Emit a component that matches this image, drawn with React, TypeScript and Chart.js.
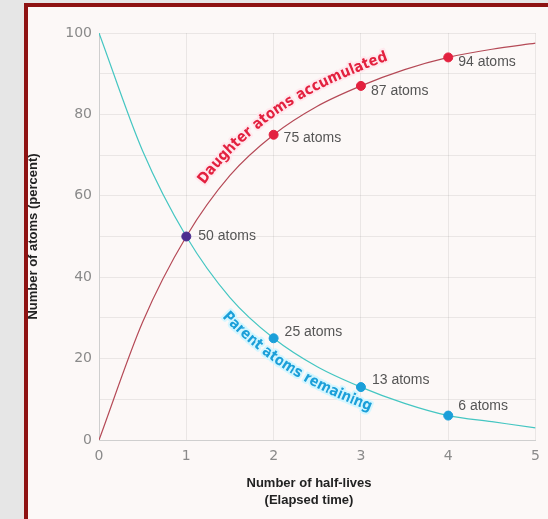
import React, { useEffect, useRef } from 'react';
import { Chart, registerables } from 'chart.js';

Chart.register(...registerables);

// ---- data ----
const curveX = [0, 0.5, 1, 1.5, 2, 2.5, 3, 3.5, 4, 4.5, 5];
const daughterCurve = [0, 29, 50, 65, 75, 82, 87, 91, 94, 96, 97.5];
const parentCurve = [100, 71, 50, 35, 25, 18, 13, 9, 6, 4.5, 3];

const markerX = [2, 3, 4];
const daughterMarkers = [75, 87, 94];
const parentMarkers = [25, 13, 6];
const crossX = [1];
const crossMarker = [50];

const daughterLabels = ['75 atoms', '87 atoms', '94 atoms'];
const parentLabels = ['25 atoms', '13 atoms', '6 atoms'];
const crossLabels = ['50 atoms'];

const xTickLabels = ['0', '1', '2', '3', '4', '5'];
const yTickLabels = ['0', '20', '40', '60', '80', '100'];

const daughterTitle = 'Daughter atoms accumulated';
const parentTitle = 'Parent atoms remaining';
const xAxisTitle = ['Number of half-lives', '(Elapsed time)'];
const yAxisTitle = 'Number of atoms (percent)';

// ---- styles ----
const RED = '#e3213f';
const BLUE = '#1b9fd9';
const PURPLE = '#4b2d8f';
const RED_LINE = '#b54a57';
const TEAL_LINE = '#45c6c2';
const LABEL_FONT = '14px "Liberation Sans", Arial, sans-serif';
const TITLE_FONT = 'bold 13px "Liberation Sans", Arial, sans-serif';
const CURVE_FONT = 'bold 15px "Liberation Sans Narrow", "DejaVu Sans Condensed", "Liberation Sans", sans-serif';

function sampleCurve(points: any[]) {
  const out: { x: number; y: number }[] = [];
  const N = 30;
  for (let i = 0; i < points.length - 1; i++) {
    const a = points[i];
    const b = points[i + 1];
    const c1x = a.cp2x ?? a.x, c1y = a.cp2y ?? a.y;
    const c2x = b.cp1x ?? b.x, c2y = b.cp1y ?? b.y;
    for (let k = 0; k < N; k++) {
      const t = k / N, m = 1 - t;
      out.push({
        x: m * m * m * a.x + 3 * m * m * t * c1x + 3 * m * t * t * c2x + t * t * t * b.x,
        y: m * m * m * a.y + 3 * m * m * t * c1y + 3 * m * t * t * c2y + t * t * t * b.y,
      });
    }
  }
  const last = points[points.length - 1];
  out.push({ x: last.x, y: last.y });
  return out;
}

function drawTextOnCurve(
  ctx: CanvasRenderingContext2D,
  points: any[],
  text: string,
  xStartPx: number,
  xEndPx: number,
  offset: number,
  color: string,
  halo: string
) {
  const pts = sampleCurve(points);
  const n = pts.length;
  const off = pts.map((p, i) => {
    const p0 = pts[Math.max(0, i - 1)];
    const p1 = pts[Math.min(n - 1, i + 1)];
    let dx = p1.x - p0.x, dy = p1.y - p0.y;
    const L = Math.hypot(dx, dy) || 1;
    dx /= L; dy /= L;
    return { x: p.x + dy * offset, y: p.y - dx * offset };
  });
  const s: number[] = [0];
  for (let i = 1; i < n; i++) s.push(s[i - 1] + Math.hypot(off[i].x - off[i - 1].x, off[i].y - off[i - 1].y));
  let iS = pts.findIndex((p) => p.x >= xStartPx);
  let iE = pts.findIndex((p) => p.x >= xEndPx);
  if (iS < 0) iS = 0;
  if (iE < 0) iE = n - 1;
  const s0 = s[iS], s1 = s[iE];
  ctx.save();
  ctx.font = CURVE_FONT;
  const chars = Array.from(text);
  const widths = chars.map((c) => ctx.measureText(c).width);
  const total = widths.reduce((a, b) => a + b, 0);
  const gap = chars.length > 1 ? (s1 - s0 - total) / (chars.length - 1) : 0;
  const posAt = (d: number) => {
    let j = 0;
    while (j < n - 2 && s[j + 1] < d) j++;
    const seg = s[j + 1] - s[j] || 1;
    const f = (d - s[j]) / seg;
    return {
      x: off[j].x + (off[j + 1].x - off[j].x) * f,
      y: off[j].y + (off[j + 1].y - off[j].y) * f,
      a: Math.atan2(off[j + 1].y - off[j].y, off[j + 1].x - off[j].x),
    };
  };
  ctx.textAlign = 'center';
  ctx.textBaseline = 'middle';
  ctx.lineJoin = 'round';
  let cur = s0;
  chars.forEach((c, i) => {
    const mid = cur + widths[i] / 2;
    const p = posAt(mid);
    ctx.save();
    ctx.translate(p.x, p.y);
    ctx.rotate(p.a);
    ctx.strokeStyle = halo;
    ctx.lineWidth = 4;
    ctx.strokeText(c, 0, 0);
    ctx.fillStyle = color;
    ctx.fillText(c, 0, 0);
    ctx.restore();
    cur += widths[i] + gap;
  });
  ctx.restore();
}

const annotationPlugin = {
  id: 'annotations',
  afterDatasetsDraw(chart: any) {
    const ctx: CanvasRenderingContext2D = chart.ctx;
    const xs = chart.scales.x;
    // curved series titles
    const dMeta = chart.getDatasetMeta(3);
    const pMeta = chart.getDatasetMeta(4);
    drawTextOnCurve(ctx, dMeta.data, daughterTitle, xs.getPixelForValue(1.32), xs.getPixelForValue(3.36), 18, RED, 'rgba(255,232,237,0.95)');
    drawTextOnCurve(ctx, pMeta.data, parentTitle, xs.getPixelForValue(1.56), xs.getPixelForValue(3.17), -15, BLUE, 'rgba(210,245,255,0.95)');

    // point labels
    ctx.save();
    ctx.font = LABEL_FONT;
    ctx.fillStyle = '#555';
    ctx.textAlign = 'left';
    ctx.textBaseline = 'middle';
    const groups = [
      { idx: 0, labels: crossLabels, dx: [12], dy: [0] },
      { idx: 1, labels: daughterLabels, dx: [10, 10, 10], dy: [3, 5, 5] },
      { idx: 2, labels: parentLabels, dx: [11, 11, 10], dy: [-6, -7, -9] },
    ];
    groups.forEach((g) => {
      const meta = chart.getDatasetMeta(g.idx);
      meta.data.forEach((pt: any, i: number) => {
        ctx.fillText(g.labels[i], pt.x + g.dx[i], pt.y + g.dy[i]);
      });
    });
    ctx.restore();

    // x axis title
    ctx.save();
    ctx.font = TITLE_FONT;
    ctx.fillStyle = '#222';
    ctx.textAlign = 'center';
    ctx.textBaseline = 'middle';
    xAxisTitle.forEach((t, i) => ctx.fillText(t, 309, 483 + i * 17));
    ctx.restore();
  },
};

export default function App() {
  const ref = useRef<HTMLCanvasElement | null>(null);

  useEffect(() => {
    if (!ref.current) return;
    const pointsOf = (xs: number[], ys: number[]) => xs.map((x, i) => ({ x, y: ys[i] }));
    const chart = new Chart(ref.current, {
      type: 'scatter',
      data: {
        datasets: [
          {
            label: 'cross',
            data: pointsOf(crossX, crossMarker),
            showLine: false,
            pointRadius: 4.5,
            pointBackgroundColor: PURPLE,
            pointBorderColor: PURPLE,
          },
          {
            label: 'daughter points',
            data: pointsOf(markerX, daughterMarkers),
            showLine: false,
            pointRadius: 4.5,
            pointBackgroundColor: RED,
            pointBorderColor: RED,
          },
          {
            label: 'parent points',
            data: pointsOf(markerX, parentMarkers),
            showLine: false,
            pointRadius: 4.5,
            pointBackgroundColor: BLUE,
            pointBorderColor: BLUE,
          },
          {
            label: 'Daughter atoms accumulated',
            data: pointsOf(curveX, daughterCurve),
            showLine: true,
            borderColor: RED_LINE,
            borderWidth: 1.2,
            pointRadius: 0,
            cubicInterpolationMode: 'monotone',
          },
          {
            label: 'Parent atoms remaining',
            data: pointsOf(curveX, parentCurve),
            showLine: true,
            borderColor: TEAL_LINE,
            borderWidth: 1.2,
            pointRadius: 0,
            cubicInterpolationMode: 'monotone',
          },
        ],
      },
      options: {
        responsive: false,
        animation: false,
        devicePixelRatio: 1,
        layout: { padding: { left: 24, right: 11, top: 33, bottom: 0 } },
        plugins: { legend: { display: false }, tooltip: { enabled: false } },
        scales: {
          x: {
            type: 'linear',
            min: 0,
            max: 5,
            afterFit: (s: any) => { s.height = 79; },
            grid: { color: 'rgba(0,0,0,0.07)', drawTicks: false },
            border: { color: '#cfcfcf' },
            ticks: {
              stepSize: 1,
              padding: 8,
              color: '#8a8a8a',
              font: { family: '"DejaVu Sans", sans-serif', size: 14 },
              callback: (v: any) => xTickLabels[Math.round(Number(v))] ?? '',
            },
          },
          y: {
            type: 'linear',
            min: 0,
            max: 100,
            afterFit: (s: any) => { s.width = 75; },
            grid: { color: 'rgba(0,0,0,0.07)', drawTicks: false },
            border: { color: '#cfcfcf' },
            title: {
              display: true,
              text: yAxisTitle,
              color: '#222',
              font: { family: '"Liberation Sans", Arial, sans-serif', size: 13, weight: 'bold' },
              padding: { top: 2, bottom: 0 },
            },
            ticks: {
              stepSize: 10,
              padding: 7,
              color: '#8a8a8a',
              font: { family: '"DejaVu Sans", sans-serif', size: 14 },
              callback: (v: any) => (Number(v) % 20 === 0 ? yTickLabels[Number(v) / 20] : ''),
            },
          },
        },
      },
      plugins: [annotationPlugin],
    } as any);
    return () => chart.destroy();
  }, []);

  return (
    <div style={{ position: 'fixed', left: 0, top: 0, width: 548, height: 519, background: '#e6e6e6', overflow: 'hidden' }}>
      <div
        style={{
          position: 'absolute',
          left: 24,
          top: 3,
          width: 560,
          height: 560,
          border: '4px solid #8e1212',
          background: '#fcf8f7',
        }}
      />
      <canvas ref={ref} width={548} height={519} style={{ position: 'absolute', left: 0, top: 0 }} />
    </div>
  );
}
